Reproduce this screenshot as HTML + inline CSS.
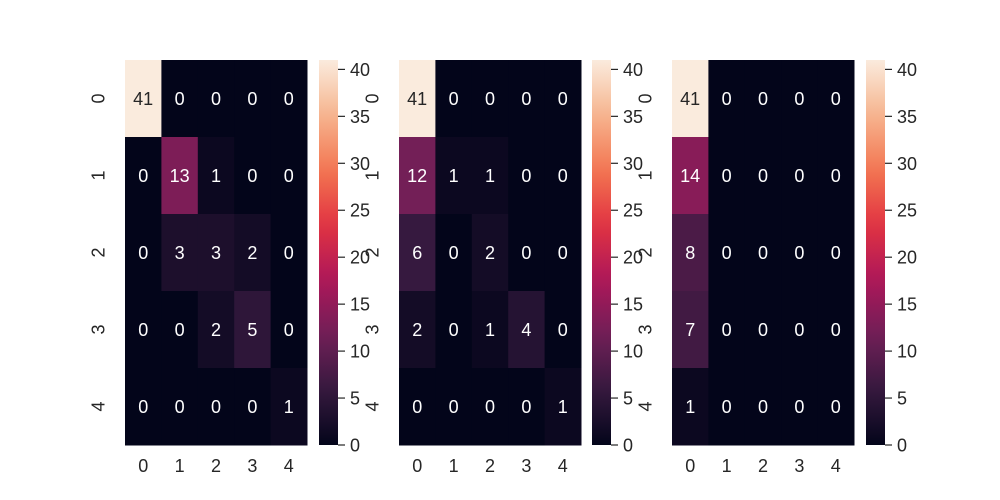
<!DOCTYPE html>
<html><head><meta charset="utf-8"><style>
body{margin:0;background:#fff}
svg{display:block;font-family:"Liberation Sans",Arial,sans-serif}
</style></head><body>
<svg id="c" width="1000" height="500"></svg>
<script>
const labels=["0","1","2","3","4"];
const cbTicks=[0,5,10,15,20,25,30,35,40];
const matA=[[41,0,0,0,0],[0,13,1,0,0],[0,3,3,2,0],[0,0,2,5,0],[0,0,0,0,1]];
const matB=[[41,0,0,0,0],[12,1,1,0,0],[6,0,2,0,0],[2,0,1,4,0],[0,0,0,0,1]];
const matC=[[41,0,0,0,0],[14,0,0,0,0],[8,0,0,0,0],[7,0,0,0,0],[1,0,0,0,0]];
const vmax=41;
const panels=[{m:matA,x0:125,cb:319},{m:matB,x0:399,cb:592},{m:matC,x0:672,cb:866}];
const stops=[[3,5,26],[53,25,62],[112,31,87],[173,23,89],[225,51,66],[243,118,81],[246,180,143],[250,235,221]];
function cmap(t){t=Math.max(0,Math.min(1,t));const s=t*(stops.length-1);const i=Math.min(Math.floor(s),stops.length-2);const f=s-i;
const a=stops[i],b=stops[i+1];return `rgb(${a.map((v,k)=>Math.round(v+(b[k]-v)*f)).join(',')})`;}
const NS="http://www.w3.org/2000/svg";const svg=document.getElementById('c');
function el(tag,attrs,parent){const e=document.createElementNS(NS,tag);for(const k in attrs)e.setAttribute(k,attrs[k]);(parent||svg).appendChild(e);return e;}
const yTop=60,yBot=445,W=182;const ch=(yBot-yTop)/5,cw=W/5;const FS=18;
const defs=el('defs',{});
const lg=el('linearGradient',{id:'g',x1:0,y1:1,x2:0,y2:0},defs);
for(let i=0;i<=20;i++){el('stop',{offset:i/20,'stop-color':cmap(i/20)},lg);}
panels.forEach((p,pi)=>{
  const g=el('g',{});
  
  
  p.m.forEach((row,r)=>row.forEach((v,c)=>{
    const rc=el('rect',{x:p.x0+c*cw,y:yTop+r*ch,width:cw+0.5,height:ch+0.5,fill:cmap(v/vmax)},g);
    
    
    const t=el('text',{x:p.x0+(c+0.5)*cw,y:yTop+(r+0.5)*ch+6.5,'text-anchor':'middle','font-size':FS,fill:v/vmax>0.6?'#262626':'#fff'},g);
    t.textContent=v;
    
    
  }));
  labels.forEach((l,i)=>{
    const tx=el('text',{x:p.x0+(i+0.5)*cw,y:472,'text-anchor':'middle','font-size':FS,fill:'#262626'},g);
    tx.textContent=l;
    
    
    const yy=yTop+(i+0.5)*ch;const xx=p.x0-27;
    const ty=el('text',{x:xx,y:yy,'text-anchor':'middle','font-size':FS,fill:'#262626',transform:`rotate(-90 ${xx} ${yy}) translate(0 6.5)`},g);
    ty.textContent=l;
    
    
  });
  const cb=el('g',{});
  
  
  el('rect',{x:p.cb,y:yTop,width:19,height:yBot-yTop,fill:'url(#g)'},cb);
  cbTicks.forEach(v=>{
    const y=yBot-(v/vmax)*(yBot-yTop);
    el('line',{x1:p.cb+19,x2:p.cb+26,y1:y,y2:y,stroke:'#262626','stroke-width':1.2},cb);
    const t=el('text',{x:p.cb+31,y:y+6.5,'font-size':FS,fill:'#262626'},cb);
    t.textContent=v;
    
    
  });
});
</script>
</body></html>
